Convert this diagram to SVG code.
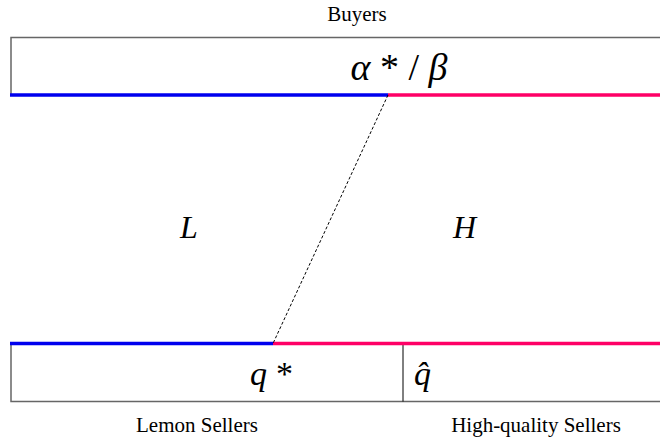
<svg xmlns="http://www.w3.org/2000/svg" width="660" height="437" viewBox="0 0 660 437">
<style>
text{font-family:"Liberation Serif","Times New Roman",serif;fill:#000}
.lbl{font-size:21px}
.math{font-style:italic}
.up{font-style:normal}
.frame{fill:none;stroke:#666;stroke-width:1.5}
.blue{stroke:#0000ee;stroke-width:3.5}
.pink{stroke:#ff0066;stroke-width:3.5}
</style>
<rect width="660" height="437" fill="#fff"/>
<g id="buyers">
<path class="frame" d="M662,37.5 H11 V95"/>
<text class="math" x="399" y="80" font-size="38" text-anchor="middle">α<tspan class="up"> * / </tspan>β</text>
<text class="lbl" x="357" y="21" text-anchor="middle">Buyers</text>
<line class="blue" x1="10" y1="95" x2="388" y2="95"/>
<line class="pink" x1="388" y1="95" x2="662" y2="95"/>
</g>
<g id="sellers">
<path class="frame" d="M11,344 V401.5 H662"/>
<line x1="403" y1="345" x2="403" y2="401.5" stroke="#000" stroke-width="1"/>
<text class="math" x="250" y="385" font-size="34">q<tspan class="up" dx="9">*</tspan></text>
<text class="math" x="414" y="385" font-size="34">q̂</text>
<text class="lbl" x="197" y="432" text-anchor="middle">Lemon Sellers</text>
<text class="lbl" x="536" y="432" text-anchor="middle">High-quality Sellers</text>
<line class="blue" x1="10" y1="343.5" x2="273" y2="343.5"/>
<line class="pink" x1="273" y1="343.5" x2="662" y2="343.5"/>
</g>
<g id="regions">
<text class="math" x="180" y="238" font-size="32">L</text>
<text class="math" x="453" y="238" font-size="32">H</text>
</g>
<g id="connectors">
<line x1="388" y1="95" x2="273" y2="343.5" stroke="#000" stroke-width="1" stroke-dasharray="3,2"/>
</g>
</svg>
